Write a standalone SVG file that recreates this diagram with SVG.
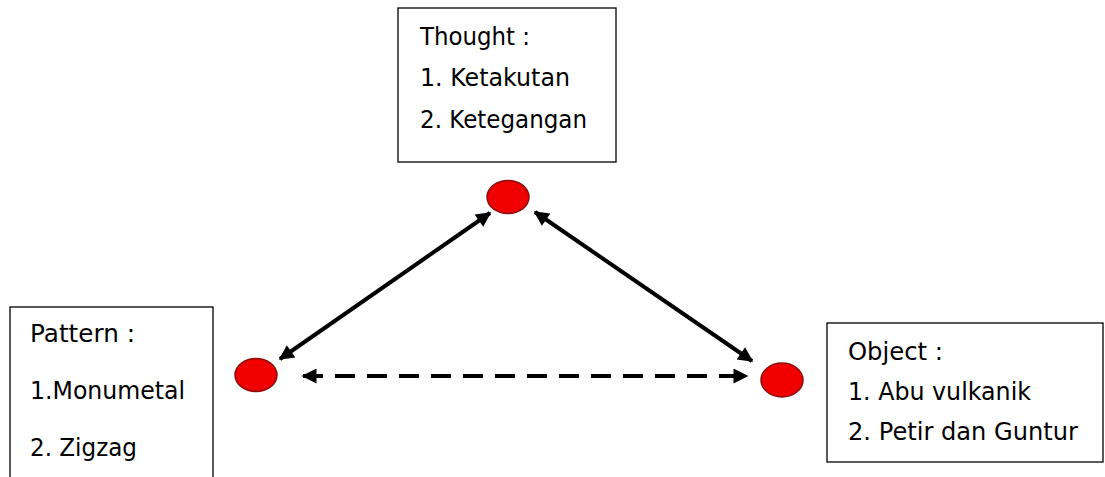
<svg xmlns="http://www.w3.org/2000/svg" width="1105" height="477" viewBox="0 0 1105 477">
<style>
.box{fill:#fff;stroke:#000;stroke-width:1.3}
.lbl{font-family:"DejaVu Sans","Liberation Sans",sans-serif;font-size:24px;fill:#000}
.dot{fill:#f00000;stroke:#8a1010;stroke-width:1.5}
.edge{stroke:#000;stroke-width:4;fill:none}
.dash{stroke-dasharray:20 12}
</style>
<defs>
<marker id="ah" viewBox="0 0 10 10" refX="9" refY="5" markerWidth="18" markerHeight="15" markerUnits="userSpaceOnUse" orient="auto-start-reverse">
<path d="M0,0 L10,5 L0,10 z" fill="#000"/>
</marker>
</defs>
<rect width="1105" height="477" fill="#fff"/>
<g id="connectors">
<line class="edge" x1="280" y1="359" x2="490" y2="213" marker-start="url(#ah)" marker-end="url(#ah)"/>
<line class="edge" x1="535" y1="212" x2="752" y2="361" marker-start="url(#ah)" marker-end="url(#ah)"/>
<line class="edge dash" x1="303" y1="376" x2="747" y2="376" marker-start="url(#ah)" marker-end="url(#ah)"/>
</g>
<g id="thought">
<rect class="box" x="398" y="8" width="218" height="154"/>
<text class="lbl" x="420" y="45" textLength="110" lengthAdjust="spacingAndGlyphs">Thought :</text>
<text class="lbl" x="420" y="86" textLength="150" lengthAdjust="spacingAndGlyphs">1. Ketakutan</text>
<text class="lbl" x="420" y="128" textLength="167" lengthAdjust="spacingAndGlyphs">2. Ketegangan</text>
</g>
<g id="pattern">
<rect class="box" x="10" y="307" width="203" height="180"/>
<text class="lbl" x="30" y="342" textLength="105" lengthAdjust="spacingAndGlyphs">Pattern :</text>
<text class="lbl" x="30" y="399" textLength="155" lengthAdjust="spacingAndGlyphs">1.Monumetal</text>
<text class="lbl" x="30" y="456" textLength="107" lengthAdjust="spacingAndGlyphs">2. Zigzag</text>
</g>
<g id="object">
<rect class="box" x="827" y="323" width="276" height="139"/>
<text class="lbl" x="848" y="360" textLength="95" lengthAdjust="spacingAndGlyphs">Object :</text>
<text class="lbl" x="848" y="400" textLength="183" lengthAdjust="spacingAndGlyphs">1. Abu vulkanik</text>
<text class="lbl" x="848" y="440" textLength="230" lengthAdjust="spacingAndGlyphs">2. Petir dan Guntur</text>
</g>
<g id="node-top"><ellipse class="dot" cx="508" cy="197" rx="21" ry="16.5"/></g>
<g id="node-left"><ellipse class="dot" cx="256" cy="375" rx="21" ry="16.5"/></g>
<g id="node-right"><ellipse class="dot" cx="782" cy="380" rx="21" ry="17"/></g>
</svg>
